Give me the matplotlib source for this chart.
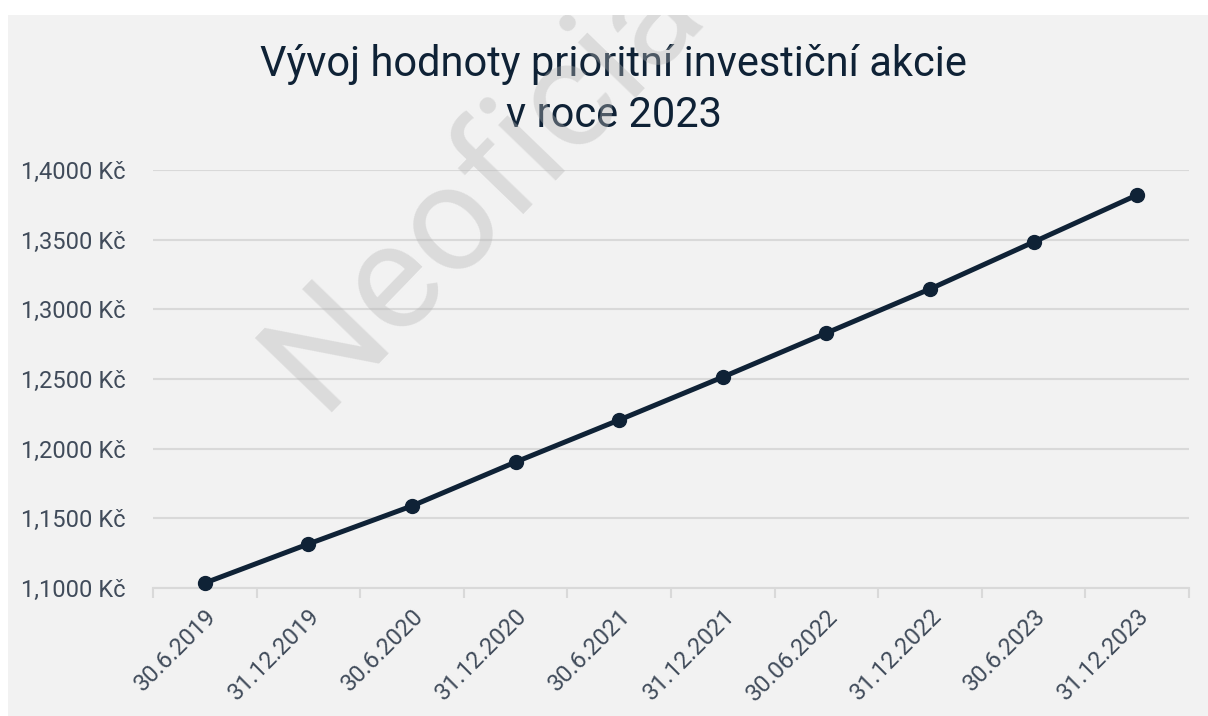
import matplotlib
matplotlib.use("Agg")
import matplotlib.pyplot as plt
from matplotlib.patches import Rectangle
from matplotlib.ticker import FuncFormatter

# data
dates = ['30.6.2019', '31.12.2019', '30.6.2020', '31.12.2020', '30.6.2021',
         '31.12.2021', '30.06.2022', '31.12.2022', '30.6.2023', '31.12.2023']
values = [1.1036, 1.1316, 1.1589, 1.1904, 1.2206,
          1.2514, 1.2830, 1.3146, 1.3483, 1.3821]
y_ticks = [1.10, 1.15, 1.20, 1.25, 1.30, 1.35, 1.40]
title_lines = ['Vývoj hodnoty prioritní investiční akcie', 'v roce 2023']

plt.rcParams['font.family'] = ['Roboto', 'DejaVu Sans']

DARK = '#0f2236'
LABEL = '#404b5a'
GRID = '#d9d9d9'
PANEL = '#f2f2f2'


def kc_formatter(x, pos):
    return f'{x:.4f}'.replace('.', ',') + ' Kč'


fig = plt.figure(figsize=(12.08, 7.16), dpi=100, facecolor='white')
panel = Rectangle((8 / 1208, 0), 1200 / 1208, 701 / 716,
                  transform=fig.transFigure, facecolor=PANEL,
                  edgecolor='none', zorder=-10)
fig.patches.append(panel)

ax = fig.add_axes([153 / 1208, 1 - 588 / 716, 1036 / 1208, 418 / 716])
ax.patch.set_alpha(0)

x = list(range(len(dates)))
ax.plot(x, values, color=DARK, linewidth=3.6, marker='o', markersize=10,
        solid_capstyle='round', zorder=5, clip_on=False)

ax.set_xlim(-0.5, len(dates) - 0.5)
ax.set_ylim(1.1, 1.4)
ax.set_yticks(y_ticks)
ax.yaxis.set_major_formatter(FuncFormatter(kc_formatter))
ax.grid(axis='y', color=GRID, linewidth=1.5)
ax.set_axisbelow(True)

for side in ['top', 'right', 'left']:
    ax.spines[side].set_visible(False)
ax.spines['bottom'].set_color(GRID)
ax.spines['bottom'].set_linewidth(1.5)

# category ticks sit between the points
ax.set_xticks([i - 0.5 for i in range(len(dates) + 1)])
ax.set_xticklabels([])
ax.tick_params(axis='x', which='major', length=7, width=1.5, color=GRID)
ax.set_xticks(x, minor=True)
ax.set_xticklabels(dates, minor=True, rotation=45, ha='right',
                   rotation_mode='anchor', fontsize=17, color=LABEL)
ax.tick_params(axis='x', which='minor', length=0, pad=12)
ax.tick_params(axis='y', length=0, pad=20, labelsize=17, labelcolor=LABEL)

# two title lines, baselines
for line, base in zip(title_lines, [76, 127]):
    fig.text(613.5 / 1208, 1 - base / 716, line, ha='center', va='baseline',
             fontsize=30, color=DARK)

# watermark on top, clipped to the grey panel
wm = fig.text(320 / 1208, 1 - 412 / 716, 'Neoficiální', rotation=46,
              rotation_mode='anchor', ha='left', va='baseline', fontsize=108,
              color=(181 / 255, 181 / 255, 181 / 255), alpha=0.38, zorder=20)
wm.set_clip_path(panel)

fig.savefig('out.png', dpi=100, facecolor='white')
